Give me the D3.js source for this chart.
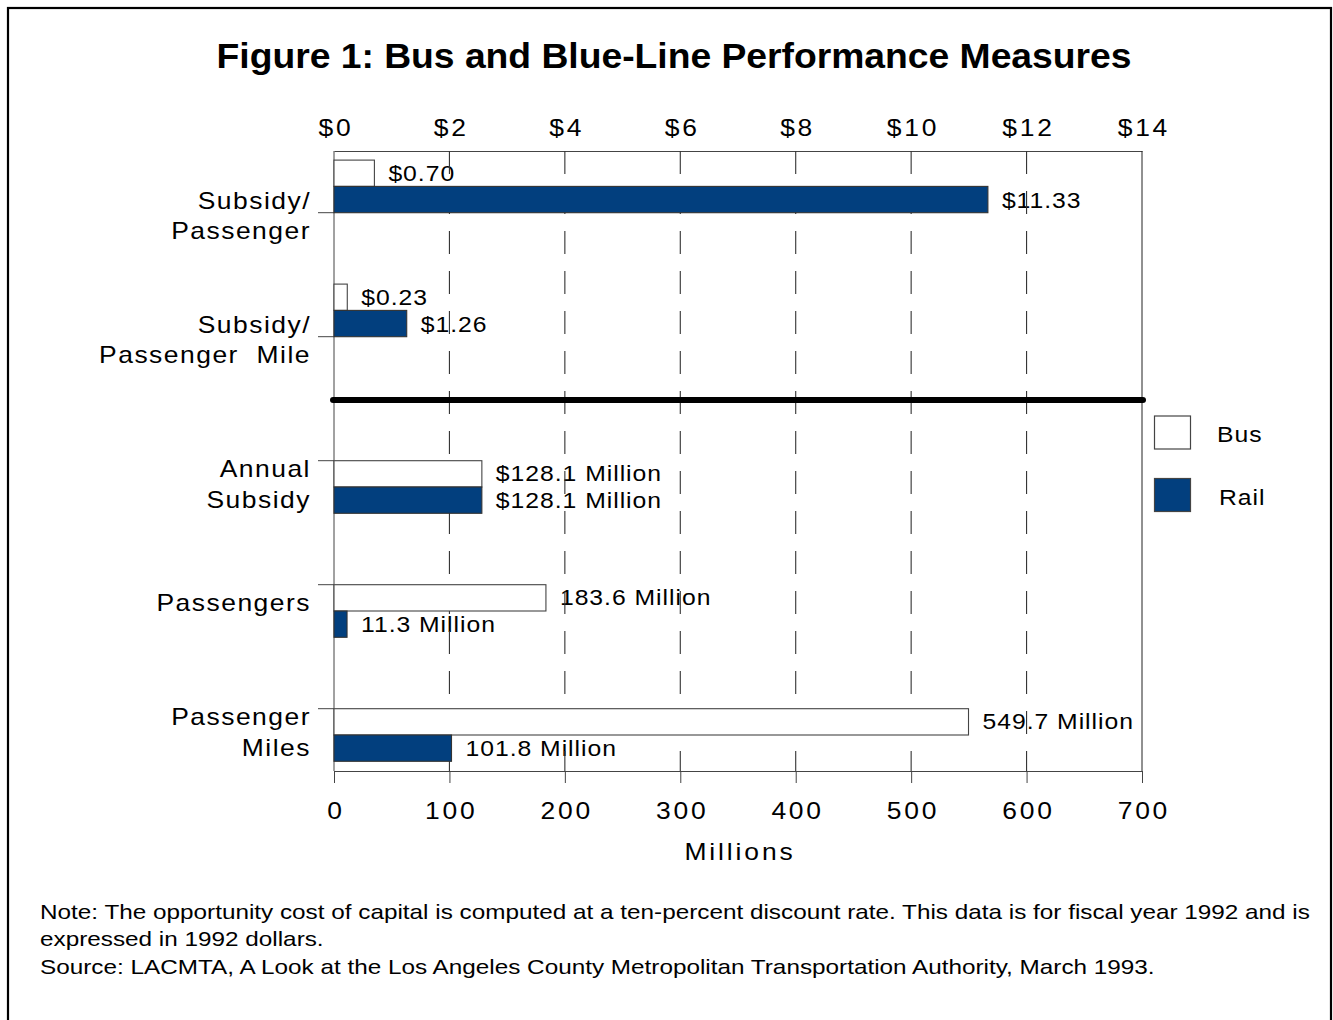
<!DOCTYPE html>
<html>
<head>
<meta charset="utf-8">
<script src="https://cdn.jsdelivr.net/npm/d3@7"></script>
<style>
  html, body { margin: 0; padding: 0; background: #fff; }
  svg { display: block; }
  text { font-family: "Liberation Sans", Arial, Helvetica, sans-serif; fill: #000; }
</style>
</head>
<body>
<svg id="chart" width="1333" height="1020"></svg>
<script>
// ---------- data ----------
const categories = ["Subsidy/Passenger", "Subsidy/Passenger Mile", "Annual Subsidy", "Passengers", "Passenger Miles"];
const categoryLines = [["Subsidy/", "Passenger"], ["Subsidy/", "Passenger  Mile"], ["Annual", "Subsidy"], ["Passengers"], ["Passenger", "Miles"]];
const panels = ["dollars", "dollars", "millions", "millions", "millions"];
const busValues = [0.70, 0.23, 128.1, 183.6, 549.7];
const railValues = [11.33, 1.26, 128.1, 11.3, 101.8];
const busLabels = ["$0.70", "$0.23", "$128.1 Million", "183.6 Million", "549.7 Million"];
const railLabels = ["$11.33", "$1.26", "$128.1 Million", "11.3 Million", "101.8 Million"];
const dollarTicks = [0, 2, 4, 6, 8, 10, 12, 14];
const millionTicks = [0, 100, 200, 300, 400, 500, 600, 700];
const seriesNames = ["Bus", "Rail"];
const seriesColors = ["#ffffff", "#023f7e"];
const titleText = "Figure 1: Bus and Blue-Line Performance Measures";
const axisTitle = "Millions";
const noteLines = [
  "Note: The opportunity cost of capital is computed at a ten-percent discount rate. This data is for fiscal year 1992 and is",
  "expressed in 1992 dollars.",
  "Source: LACMTA, A Look at the Los Angeles County Metropolitan Transportation Authority, March 1993."
];

// ---------- layout ----------
const svg = d3.select("#chart");
const L = 334, R = 1142, T = 151, B = 771;
const barH = 26.3;
const SX = 1.15; // horizontal stretch of chart lettering

const xDollar = d3.scaleLinear().domain([0, 14]).range([L, R]);
const xMillion = d3.scaleLinear().domain([0, 700]).range([L, R]);
const yTick = d3.scalePoint().domain(categories).range([212.7, 708.7]);
const xFor = i => panels[i] === "dollars" ? xDollar : xMillion;

// stretched text helper
function stext(parent, x, y, txt, size, sx, ls, anchor, weight) {
  return parent.append("text")
    .attr("transform", `translate(${x},${y}) scale(${sx},1)`)
    .attr("text-anchor", anchor || "start")
    .style("font-size", size + "px")
    .style("letter-spacing", (ls || 0) + "px")
    .style("font-weight", weight || "normal")
    .attr("xml:space", "preserve")
    .text(txt);
}

// outer border
svg.append("rect").attr("x", 8).attr("y", 8).attr("width", 1323).attr("height", 1040)
  .attr("fill", "none").attr("stroke", "#000").attr("stroke-width", 2.2);

// title
stext(svg, 674, 68, titleText, 35.5, 1.05, 0, "middle", "bold");

// top axis (dollars)
const topAxis = svg.append("g").attr("transform", `translate(0,${T})`)
  .call(d3.axisTop(xDollar).tickValues(dollarTicks).tickFormat(d => "$" + d).tickSize(0).tickPadding(15));
topAxis.select(".domain").attr("stroke", "#444");
topAxis.selectAll("text").style("font-size", "23px").style("letter-spacing", "2.4px")
  .attr("font-family", null).attr("dx", "1.2px").attr("transform", `scale(${SX},1)`);

// bottom axis (millions)
const botAxis = svg.append("g").attr("transform", `translate(0,${B})`)
  .call(d3.axisBottom(xMillion).tickValues(millionTicks).tickFormat(d3.format("d")).tickSize(12).tickSizeOuter(0).tickPadding(20));
botAxis.select(".domain").attr("stroke", "#444");
botAxis.selectAll(".tick line").attr("stroke", "#444");
botAxis.selectAll("text").style("font-size", "23px").style("letter-spacing", "2.4px")
  .attr("font-family", null).attr("dx", "1.2px").attr("transform", `scale(${SX},1)`);

stext(svg, (L + R) / 2 + 2, 860, axisTitle, 23, SX, 2.5, "middle");

// frame left / right
svg.append("line").attr("x1", L).attr("x2", L).attr("y1", T).attr("y2", B).attr("stroke", "#444");
svg.append("line").attr("x1", R).attr("x2", R).attr("y1", T).attr("y2", B).attr("stroke", "#222");

// category ticks
svg.append("g").selectAll("line").data(categories).join("line")
  .attr("x1", 318).attr("x2", L).attr("y1", d => yTick(d)).attr("y2", d => yTick(d))
  .attr("stroke", "#444");

// category labels
categories.forEach((c, i) => {
  const lines = categoryLines[i];
  let y0;
  if (panels[i] === "dollars") y0 = yTick(c) - 4;
  else y0 = lines.length > 1 ? yTick(c) + 16.5 : yTick(c) + 26;
  const step = panels[i] === "dollars" ? 30.5 : 31;
  lines.forEach((ln, k) => {
    stext(svg, 311, y0 + k * step, ln, 23, SX, 1.3, "end");
  });
});

// bar positions
const busTop = i => panels[i] === "dollars" ? yTick(categories[i]) - 2 * barH : yTick(categories[i]);
const railTop = i => busTop(i) + barH;

// value labels
const labG = svg.append("g");
busValues.forEach((d, i) => {
  stext(labG, xFor(i)(d) + 14, busTop(i) + barH / 2 + 7.5, busLabels[i], 21.5, SX, 0.85, "start");
});
railValues.forEach((d, i) => {
  stext(labG, xFor(i)(d) + 14, railTop(i) + barH / 2 + 8, railLabels[i], 21.5, SX, 0.85, "start");
});

// dashed gridlines
svg.append("g").selectAll("line").data(dollarTicks.filter(d => d > 0 && d < 14)).join("line")
  .attr("x1", d => xDollar(d)).attr("x2", d => xDollar(d)).attr("y1", T).attr("y2", B)
  .attr("stroke", "#333").attr("stroke-width", 1.1).attr("stroke-dasharray", "23,17");

// bars
const barG = svg.append("g");
barG.selectAll("rect.bus").data(busValues).join("rect").attr("class", "bus")
  .attr("x", L).attr("y", (d, i) => busTop(i))
  .attr("width", (d, i) => xFor(i)(d) - L).attr("height", barH)
  .attr("fill", seriesColors[0]).attr("stroke", "#444").attr("stroke-width", 1.1);
barG.selectAll("rect.rail").data(railValues).join("rect").attr("class", "rail")
  .attr("x", L).attr("y", (d, i) => railTop(i))
  .attr("width", (d, i) => xFor(i)(d) - L).attr("height", barH)
  .attr("fill", seriesColors[1]).attr("stroke", "#333").attr("stroke-width", 1.1);

// separator
svg.append("line").attr("x1", L - 1).attr("x2", R + 1).attr("y1", 400).attr("y2", 400)
  .attr("stroke", "#000").attr("stroke-width", 6).attr("stroke-linecap", "round");

// legend
const lg = svg.append("g");
seriesNames.forEach((s, k) => {
  lg.append("rect").attr("x", 1154.5).attr("y", 416 + k * 62.5).attr("width", 36).attr("height", 33)
    .attr("fill", seriesColors[k]).attr("stroke", "#444").attr("stroke-width", 1.2);
  stext(lg, k === 0 ? 1217 : 1219, 441.5 + k * 63, s, 21.5, SX, 0.85, "start");
});

// notes
noteLines.forEach((ln, k) => {
  stext(svg, 40, 919 + k * 27.3, ln, 20, 1.215, 0, "start");
});
</script>
</body>
</html>
